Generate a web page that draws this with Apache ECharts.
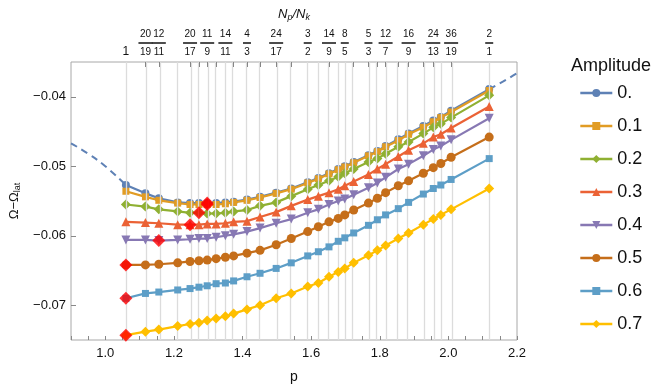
<!DOCTYPE html>
<html>
<head>
<meta charset="utf-8">
<script src="https://cdn.jsdelivr.net/npm/echarts@6/dist/echarts.min.js"></script>
<style>
html, body { margin: 0; padding: 0; background: #fff; }
#main { width: 664px; height: 392px; }
</style>
</head>
<body>
<div id="main"></div>
<script>
// p 值（所有振幅共用）
var pVals = [1.060, 1.117, 1.156, 1.211, 1.247, 1.273, 1.297, 1.323, 1.350, 1.374,
    1.413, 1.451, 1.498, 1.542, 1.590, 1.621, 1.652, 1.679, 1.698, 1.724,
    1.767, 1.793, 1.817, 1.854, 1.884, 1.927, 1.956, 1.978, 2.008, 2.119];

var amplitudes = ['0.', '0.1', '0.2', '0.3', '0.4', '0.5', '0.6', '0.7'];

var amp00 = [-0.0527, -0.0539, -0.0546, -0.0552, -0.0553, -0.0553, -0.0553, -0.0553, -0.0552, -0.0551,
    -0.0548, -0.0544, -0.0538, -0.0532, -0.0523, -0.0517, -0.0510, -0.0504, -0.0500, -0.0494,
    -0.0484, -0.0478, -0.0471, -0.0461, -0.0453, -0.0442, -0.0434, -0.0429, -0.0420, -0.0389];
var amp01 = [-0.0536, -0.0544, -0.0549, -0.0553, -0.0555, -0.0555, -0.0555, -0.0555, -0.0554, -0.0552,
    -0.0549, -0.0545, -0.0539, -0.0533, -0.0524, -0.0518, -0.0511, -0.0505, -0.0501, -0.0495,
    -0.0485, -0.0479, -0.0472, -0.0463, -0.0454, -0.0444, -0.0436, -0.0430, -0.0422, -0.0391];
var amp02 = [-0.0555, -0.0558, -0.0562, -0.0565, -0.0567, -0.0567, -0.0568, -0.0568, -0.0567, -0.0565,
    -0.0563, -0.0557, -0.0552, -0.0543, -0.0533, -0.0527, -0.0521, -0.0515, -0.0510, -0.0504,
    -0.0494, -0.0489, -0.0482, -0.0472, -0.0465, -0.0453, -0.0444, -0.0439, -0.0430, -0.0398];
var amp03 = [-0.0580, -0.0581, -0.0582, -0.0584, -0.0584, -0.0584, -0.0583, -0.0583, -0.0582, -0.0580,
    -0.0579, -0.0573, -0.0566, -0.0557, -0.0548, -0.0543, -0.0538, -0.0533, -0.0528, -0.0522,
    -0.0512, -0.0504, -0.0497, -0.0486, -0.0477, -0.0467, -0.0458, -0.0454, -0.0445, -0.0414];
var amp04 = [-0.0606, -0.0606, -0.0607, -0.0606, -0.0605, -0.0604, -0.0604, -0.0602, -0.0600, -0.0598,
    -0.0594, -0.0589, -0.0582, -0.0576, -0.0567, -0.0562, -0.0555, -0.0550, -0.0547, -0.0541,
    -0.0531, -0.0524, -0.0516, -0.0504, -0.0497, -0.0485, -0.0476, -0.0471, -0.0462, -0.0431];
var amp05 = [-0.0642, -0.0642, -0.0641, -0.0639, -0.0637, -0.0636, -0.0635, -0.0633, -0.0631, -0.0629,
    -0.0625, -0.0621, -0.0613, -0.0604, -0.0594, -0.0587, -0.0580, -0.0575, -0.0570, -0.0563,
    -0.0553, -0.0546, -0.0538, -0.0528, -0.0521, -0.0510, -0.0502, -0.0496, -0.0487, -0.0458];
var amp06 = [-0.0690, -0.0683, -0.0681, -0.0678, -0.0676, -0.0674, -0.0672, -0.0669, -0.0668, -0.0665,
    -0.0659, -0.0654, -0.0647, -0.0639, -0.0629, -0.0623, -0.0616, -0.0608, -0.0603, -0.0596,
    -0.0585, -0.0577, -0.0570, -0.0561, -0.0552, -0.0540, -0.0532, -0.0527, -0.0519, -0.0489];
var amp07 = [-0.0743, -0.0738, -0.0735, -0.0730, -0.0727, -0.0725, -0.0722, -0.0719, -0.0716, -0.0712,
    -0.0706, -0.0700, -0.0690, -0.0683, -0.0673, -0.0668, -0.0659, -0.0652, -0.0647, -0.0639,
    -0.0628, -0.0621, -0.0614, -0.0604, -0.0596, -0.0584, -0.0576, -0.0570, -0.0562, -0.0532];

// 虚线（理论曲线）左右两段
var curveLeft = [[0.9, -0.0467], [0.95, -0.0482], [1.0, -0.0500], [1.060, -0.0527]];
var curveRight = [[2.119, -0.0389], [2.16, -0.0378], [2.2, -0.0366]];

// 红色菱形： [振幅序号, 点序号]
var redMarks = [[7, 0], [6, 0], [5, 0], [4, 2], [3, 4], [2, 5], [1, 6], [0, 6]];

// 顶部 Np/Nk 刻度
var topLabelP = [1.060, 1.117, 1.156, 1.247, 1.297, 1.350, 1.413, 1.498, 1.590,
    1.652, 1.698, 1.767, 1.817, 1.884, 1.956, 2.008, 2.119];
var topLabels = ['1', '20/19', '12/11', '20/17', '11/9', '14/11', '4/3', '24/17', '3/2',
    '14/9', '8/5', '5/3', '12/7', '16/9', '24/13', '36/19', '2/1'];

var xTickLabels = [1.0, 1.2, 1.4, 1.6, 1.8, 2.0, 2.2];
var xMinorTicks = [0.9, 0.95, 1.0, 1.05, 1.1, 1.15, 1.2, 1.25, 1.3, 1.35, 1.4, 1.45, 1.5, 1.55,
    1.6, 1.65, 1.7, 1.75, 1.8, 1.85, 1.9, 1.95, 2.0, 2.05, 2.1, 2.15, 2.2];
var yTickLabels = [-0.07, -0.06, -0.05, -0.04];

var ampData = [amp00, amp01, amp02, amp03, amp04, amp05, amp06, amp07];
var colors = ['#5E81B5', '#E19C24', '#8FB032', '#EB6235', '#8778B3', '#C56E1A', '#5D9EC7', '#FFBF00'];
var symbols = ['circle', 'rect', 'diamond', 'triangle', 'triangle', 'circle', 'rect', 'diamond'];
var symRotate = [0, 0, 0, 0, 180, 0, 0, 0];
var symSize = [8, 7, 10, 9, 9, 9, 7, 10];

var font = 'Liberation Sans';
var chart = echarts.init(document.getElementById('main'));

function pairs(ys) {
    return pVals.map(function (p, i) { return [p, ys[i]]; });
}

function fracLabel(v) {
    var k = 0, best = 1e9;
    for (var i = 0; i < topLabelP.length; i++) {
        if (Math.abs(topLabelP[i] - v) < best) { best = Math.abs(topLabelP[i] - v); k = i; }
    }
    var s = topLabels[k];
    if (s.indexOf('/') < 0) return '{one|' + s + '}';
    var parts = s.split('/');
    var bar = parts[0].length > 1 || parts[1].length > 1 ? 'b2' : 'b1';
    return '{n|' + parts[0] + '}\n{' + bar + '|}\n{d|' + parts[1] + '}';
}

var series = [];
// 虚线 + 竖直网格线
series.push({
    type: 'line', data: curveLeft, smooth: true, showSymbol: false, z: 1,
    lineStyle: { color: colors[0], width: 2, type: [7, 5] },
    markLine: {
        silent: true, symbol: 'none', label: { show: false },
        lineStyle: { color: '#dcdcdc', width: 1.3, type: 'solid' },
        emphasis: { disabled: true },
        data: pVals.map(function (p) { return { xAxis: p }; })
    }
});
series.push({
    type: 'line', data: curveRight, smooth: true, showSymbol: false, z: 1,
    lineStyle: { color: colors[0], width: 2, type: [7, 5] }
});

for (var i = 0; i < ampData.length; i++) {
    series.push({
        name: amplitudes[i], type: 'line', data: pairs(ampData[i]),
        symbol: symbols[i], symbolRotate: symRotate[i], symbolSize: symSize[i],
        showAllSymbol: true, z: 2 + i,
        itemStyle: { color: colors[i] },
        lineStyle: { color: colors[i], width: 2.2 }
    });
}

series.push({
    type: 'scatter', z: 20, symbol: 'diamond', symbolSize: 13,
    itemStyle: { color: '#FF0000' },
    data: redMarks.map(function (m) { return [pVals[m[1]], ampData[m[0]][m[1]]]; })
});

var option = {
    animation: false,
    backgroundColor: '#fff',
    textStyle: { fontFamily: font },
    title: {
        text: 'Amplitude', left: 566, top: 52,
        textStyle: { fontSize: 18, fontWeight: 'normal', color: '#111', fontFamily: font }
    },
    legend: {
        data: amplitudes, orient: 'vertical', left: 574, top: 79,
        itemWidth: 32, itemHeight: 10, itemGap: 15,
        lineStyle: { width: 2.6 },
        textStyle: { fontSize: 18, color: '#111', fontFamily: font }
    },
    grid: {
        left: 66, right: 147, top: 62, bottom: 52,
        show: true, borderColor: '#a8a8a8', borderWidth: 1
    },
    xAxis: [{
        type: 'value', position: 'bottom', min: 0.9, max: 2.2,
        name: 'p', nameLocation: 'middle', nameGap: 30,
        nameTextStyle: { fontSize: 14, color: '#111', fontFamily: font },
        axisLine: { show: false },
        splitLine: { show: false },
        axisTick: { inside: true, length: 4, customValues: xMinorTicks, lineStyle: { color: '#888' } },
        axisLabel: {
            customValues: xTickLabels, margin: 7, fontSize: 13, color: '#111', fontFamily: font,
            formatter: function (v) { return v.toFixed(1); }
        }
    }, {
        type: 'value', position: 'top', min: 0.9, max: 2.2,
        name: '{i|N}{s|p}{i|/N}{s|k}', nameLocation: 'middle', nameGap: 40,
        nameTextStyle: {
            rich: {
                i: { fontSize: 13, fontStyle: 'italic', color: '#111', fontFamily: font },
                s: { fontSize: 9, fontStyle: 'italic', color: '#111', fontFamily: font, verticalAlign: 'bottom', padding: [6, 0, 0, 0] }
            }
        },
        axisLine: { show: false },
        splitLine: { show: false },
        axisTick: { inside: true, length: 5, customValues: pVals, lineStyle: { color: '#777' } },
        axisLabel: {
            customValues: topLabelP, margin: 4, color: '#111', fontFamily: font,
            formatter: fracLabel,
            rich: {
                n: { fontSize: 10, lineHeight: 11, color: '#111', fontFamily: font },
                d: { fontSize: 10, lineHeight: 12, color: '#111', fontFamily: font },
                b1: { width: 8, height: 1.5, lineHeight: 6, backgroundColor: '#111' },
                b2: { width: 14, height: 1.5, lineHeight: 6, backgroundColor: '#111' },
                one: { fontSize: 12, lineHeight: 13, color: '#111', fontFamily: font }
            }
        }
    }],
    yAxis: {
        type: 'value', min: -0.075, max: -0.035,
        name: '{a|Ω−Ω}{s|lat}', nameLocation: 'middle', nameGap: 49, nameRotate: 90,
        nameTextStyle: {
            rich: {
                a: { fontSize: 13, color: '#111', fontFamily: font },
                s: { fontSize: 9, color: '#111', fontFamily: font, verticalAlign: 'bottom', padding: [6, 0, 0, 0] }
            }
        },
        axisLine: { show: false },
        splitLine: { show: false },
        axisTick: { inside: true, length: 5, customValues: yTickLabels, lineStyle: { color: '#888' } },
        axisLabel: {
            customValues: yTickLabels, margin: 5, fontSize: 13, color: '#111', fontFamily: font,
            formatter: function (v) { return v.toFixed(2).replace('-', '\u2212'); }
        }
    },
    series: series
};

chart.setOption(option);
</script>
</body>
</html>
